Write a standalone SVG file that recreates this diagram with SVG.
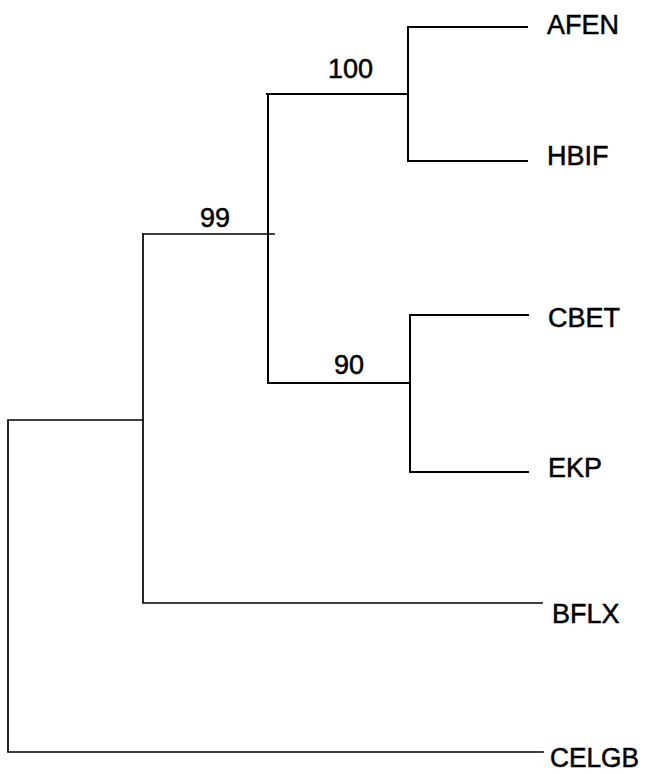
<svg xmlns="http://www.w3.org/2000/svg" width="647" height="774" viewBox="0 0 647 774">
  <style>
    .br { fill: none; stroke: #000; stroke-width: 2; stroke-linecap: square; }
    .thin { stroke-width: 1.7; }
    .lbl { font-family: "Liberation Sans", Arial, sans-serif; font-size: 27px; fill: #000; stroke: #000; stroke-width: 0.5; }
  </style>
  <rect width="647" height="774" fill="#fff"/>
  <g id="connectors">
    <path class="br" d="M527,27 H408 V161 H527"/>
    <path class="br" d="M267,94 H408"/>
    <path class="br" d="M528,315 H410 V472 H528"/>
    <path class="br" d="M268,383 H410"/>
    <path class="br" d="M268,94 V383"/>
    <path class="br thin" d="M143,234 H274"/>
    <path class="br thin" d="M143,234 V603 H542"/>
    <path class="br thin" d="M143,420 H8 V752 H543"/>
  </g>
  <g id="node-100"><text class="lbl" x="328" y="78">100</text></g>
  <g id="node-99"><text class="lbl" x="200" y="227">99</text></g>
  <g id="node-90"><text class="lbl" x="334" y="374">90</text></g>
  <g id="leaf-AFEN"><text class="lbl" x="547" y="34">AFEN</text></g>
  <g id="leaf-HBIF"><text class="lbl" x="547" y="165">HBIF</text></g>
  <g id="leaf-CBET"><text class="lbl" x="548" y="327">CBET</text></g>
  <g id="leaf-EKP"><text class="lbl" x="548" y="477">EKP</text></g>
  <g id="leaf-BFLX"><text class="lbl" x="552" y="623">BFLX</text></g>
  <g id="leaf-CELGB"><text class="lbl" x="550" y="767" font-size="26" textLength="89" lengthAdjust="spacingAndGlyphs">CELGB</text></g>
</svg>
